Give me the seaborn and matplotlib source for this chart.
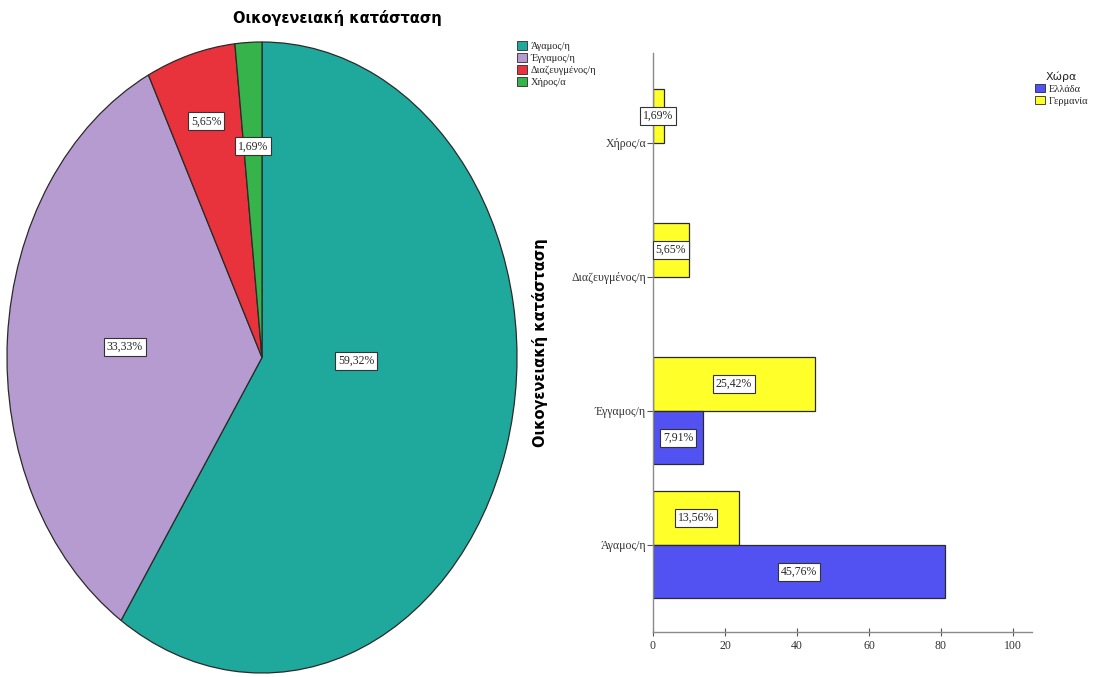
import matplotlib
matplotlib.use("Agg")
import matplotlib.pyplot as plt
import seaborn as sns
import pandas as pd
import numpy as np
from matplotlib.patches import Patch

# Marital status (whole sample) and breakdown by country
title = "Οικογενειακή κατάσταση"
statuses = ["Άγαμος/η", "Έγγαμος/η", "Διαζευγμένος/η", "Χήρος/α"]
status_counts = [105, 59, 10, 3]
countries = ["Ελλάδα", "Γερμανία"]
greece_counts = [81, 14, 0, 0]
germany_counts = [24, 45, 10, 3]
x_ticks = [0, 20, 40, 60, 80, 100]

sns.set_theme(style="white")
plt.rcParams["font.family"] = ["DejaVu Sans"]

status_colors = ["#1fa99c", "#b69bd0", "#e8323c", "#36b34a"]
country_colors = {"Ελλάδα": "#5252f2", "Γερμανία": "#ffff2a"}
edge = "#2a2a2a"
small_font = dict(family="Liberation Serif", size=8.5)

W, H = 1099, 677
fig = plt.figure(figsize=(W / 100, H / 100), dpi=100)
fig.patch.set_facecolor("white")

total = sum(status_counts)


def pct(v):
    return f"{v / total * 100:.2f}%".replace(".", ",")


label_box = dict(boxstyle="square,pad=0.25", fc="white", ec="#333333", lw=0.8)

# ---- pie chart (stretched vertically) ----
ax_pie = fig.add_axes([7 / W, 4 / H, 510 / W, 631 / H])
wedges, _ = ax_pie.pie(
    status_counts, colors=status_colors, startangle=90, counterclock=False,
    wedgeprops=dict(edgecolor=edge, linewidth=0.9, clip_on=False),
)
ax_pie.set_aspect("auto")
ax_pie.set_xlim(-1, 1)
ax_pie.set_ylim(-1, 1)
ax_pie.axis("off")

# label placement inside each wedge: radius and angle shift (degrees)
label_radius = [0.37, 0.54, 0.78, 0.67]
label_shift = [15, 0, 0, 0]
for w, v, r, s in zip(wedges, status_counts, label_radius, label_shift):
    ang = np.deg2rad((w.theta1 + w.theta2) / 2 + s)
    ax_pie.text(r * np.cos(ang), r * np.sin(ang), pct(v), ha="center",
                va="center", bbox=label_box, **small_font)

fig.text(337 / W, 1 - 18 / H, title, ha="center", va="center",
         fontweight="bold", fontsize=10.5, color="black")

fig.legend(
    handles=[Patch(fc=c, ec=edge, lw=0.6, label=s)
             for s, c in zip(statuses, status_colors)],
    loc="upper left", bbox_to_anchor=(512 / W, 1 - 36 / H), frameon=False,
    prop=dict(family="Liberation Serif", size=7.5), handlelength=0.9,
    handleheight=0.9, labelspacing=0.2, handletextpad=0.4, borderpad=0,
)

# ---- horizontal grouped bar chart ----
rows = []
for s, g, d in zip(statuses, greece_counts, germany_counts):
    if g:
        rows.append((s, countries[0], g))
    if d:
        rows.append((s, countries[1], d))
df = pd.DataFrame(rows, columns=["status", "country", "count"])

ax_bar = fig.add_axes([653 / W, (H - 632) / H, 379 / W, 579 / H])
hue_order = [countries[1], countries[0]]
sns.barplot(
    data=df, x="count", y="status", hue="country", order=statuses[::-1],
    hue_order=hue_order, palette=country_colors, orient="h", width=0.8,
    saturation=1, edgecolor=edge, linewidth=0.9, legend=False, ax=ax_bar,
)
for cont in ax_bar.containers:
    ax_bar.bar_label(cont, labels=[pct(v) for v in cont.datavalues],
                     label_type="center", bbox=label_box, **small_font)

ax_bar.set_xlim(0, 105.3)
ax_bar.set_ylim(3.65, -0.67)
ax_bar.set_xticks(x_ticks)
ax_bar.set_xlabel("")
ax_bar.set_ylabel(title, fontweight="bold", fontsize=10.5, color="black")
ax_bar.yaxis.set_label_coords(-0.277, 0.5)
ax_bar.set_facecolor("white")
for side in ["top", "right"]:
    ax_bar.spines[side].set_visible(False)
for side in ["left", "bottom"]:
    ax_bar.spines[side].set_color("#8a8a8a")
    ax_bar.spines[side].set_linewidth(1.0)
ax_bar.tick_params(axis="y", left=True, length=4, width=0.8, color="#555555",
                   direction="out", pad=1)
ax_bar.tick_params(axis="x", bottom=True, length=6, width=0.8,
                   color="#555555", direction="inout", pad=3)
for lab in ax_bar.get_xticklabels() + ax_bar.get_yticklabels():
    lab.set_fontfamily("Liberation Serif")
    lab.set_fontsize(8.5)
    lab.set_color("#333333")

fig.legend(
    handles=[Patch(fc=country_colors[c], ec=edge, lw=0.6, label=c)
             for c in countries],
    title="Χώρα", loc="upper left", bbox_to_anchor=(1030 / W, 1 - 66 / H),
    frameon=False, prop=dict(family="Liberation Serif", size=7.5),
    title_fontproperties=dict(size=8), handlelength=0.9, handleheight=0.9,
    labelspacing=0.2, handletextpad=0.4, borderpad=0,
)

fig.savefig("out.png", dpi=100, facecolor="white")
